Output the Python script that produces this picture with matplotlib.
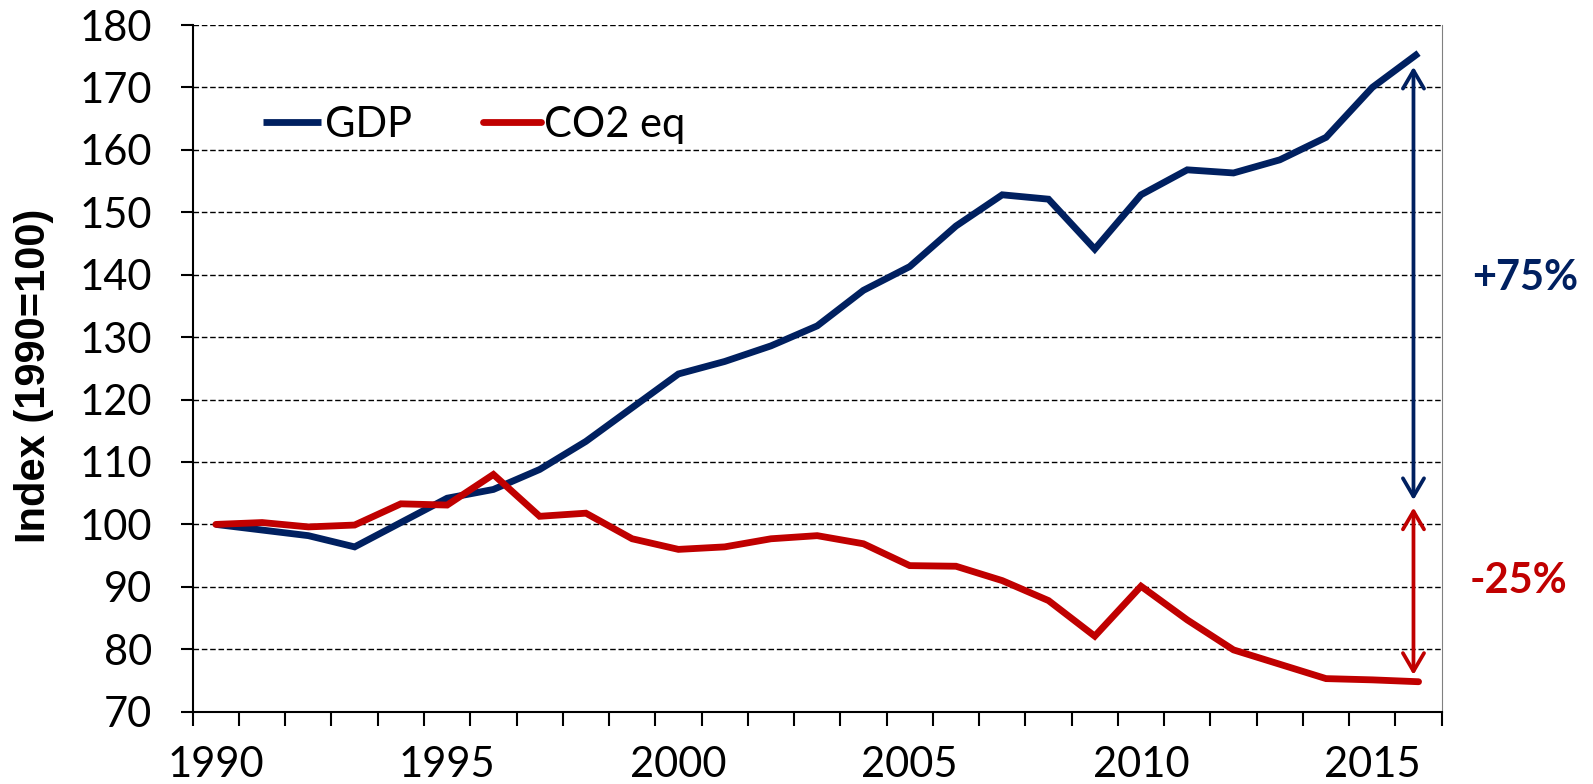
import numpy as np
import matplotlib
matplotlib.use('Agg')
import matplotlib.pyplot as plt

# index values, 1990 = 100
years = list(range(1990, 2017))
gdp = [100, 99.1, 98.2, 96.4, 100.3, 104.2, 105.6, 108.8, 113.3, 118.7,
       124.1, 126.1, 128.6, 131.8, 137.5, 141.3, 147.8, 152.8, 152.1, 144.1,
       152.8, 156.8, 156.3, 158.4, 162.0, 170.0, 175.5]
co2 = [100, 100.3, 99.6, 99.9, 103.3, 103.1, 108.0, 101.3, 101.8, 97.7,
       96.0, 96.4, 97.7, 98.2, 96.9, 93.4, 93.3, 91.0, 87.8, 82.1,
       90.1, 84.7, 79.9, 77.6, 75.3, 75.1, 74.8]
label_years = [1990, 1995, 2000, 2005, 2010, 2015]
gdp_change = '+75%'
co2_change = '-25%'

navy = '#002060'
red = '#C00000'

plt.rcParams['font.family'] = ['Lato', 'DejaVu Sans']

fig = plt.figure(figsize=(15.93, 7.84), dpi=100)
ax = fig.add_axes([0.12097, 0.09222, 0.90502 - 0.12097, 0.96811 - 0.09222])

ax.plot(years, gdp, color=navy, lw=4.9, solid_capstyle='butt', solid_joinstyle='miter', label='GDP', zorder=3)
ax.plot(years, co2, color=red, lw=4.9, solid_capstyle='round', solid_joinstyle='miter', label='CO2 eq', zorder=3)

ax.set_xlim(1989.5, 2016.5)
ax.set_ylim(70, 180)

# y axis
ax.set_yticks(np.arange(70, 181, 10))
ax.tick_params(axis='y', which='major', direction='out', length=9, width=1.5,
               pad=20, labelsize=30)
ax.yaxis.grid(True, color='black', lw=1.0, linestyle=(0, (4, 2)))
ax.set_axisbelow(True)

# x axis: tick marks between years, labels centred on years
ax.set_xticks(np.arange(1989.5, 2017, 1))
ax.set_xticklabels([])
ax.set_xticks(label_years, minor=True)
ax.set_xticklabels([str(y) for y in label_years], minor=True)
ax.tick_params(axis='x', which='major', direction='out', length=10, width=1.5)
ax.tick_params(axis='x', which='minor', length=0, pad=25, labelsize=30)

ax.spines['top'].set_visible(False)
ax.spines['left'].set_linewidth(1.5)
ax.spines['bottom'].set_linewidth(1.5)
ax.spines['right'].set_color('#808080')
ax.spines['right'].set_linewidth(0.8)

fig.text(34.5 / 1593, 1 - 375.5 / 784, 'Index (1990=100)', rotation=90,
         ha='center', va='center', fontsize=30, fontweight='bold',
         family=['Liberation Sans', 'DejaVu Sans'])

leg = ax.legend(ncol=2, frameon=False, loc='center left',
                bbox_to_anchor=(263 / 1593, 1 - 125 / 784), bbox_transform=fig.transFigure,
                fontsize=30, handlelength=1.4, handletextpad=0.08, columnspacing=1.7,
                borderpad=0, borderaxespad=0)

# change arrows
ax_x = 2015.89
ax.annotate('', xy=(ax_x, 173.3), xytext=(ax_x, 103.9),
            arrowprops=dict(arrowstyle='<->,head_length=0.65,head_width=0.38',
                            color=navy, lw=2.7, mutation_scale=20,
                            shrinkA=0, shrinkB=0))
ax.annotate('', xy=(ax_x, 102.7), xytext=(ax_x, 75.9),
            arrowprops=dict(arrowstyle='<->,head_length=0.65,head_width=0.38',
                            color=red, lw=2.7, mutation_scale=20,
                            shrinkA=0, shrinkB=0))

fig.text(1525 / 1593, 1 - 278 / 784, gdp_change, color=navy, fontsize=30,
         fontweight='bold', ha='center', va='center')
fig.text(1519 / 1593, 1 - 581 / 784, co2_change, color=red, fontsize=30,
         fontweight='bold', ha='center', va='center')

plt.savefig('out.png', dpi=100)
